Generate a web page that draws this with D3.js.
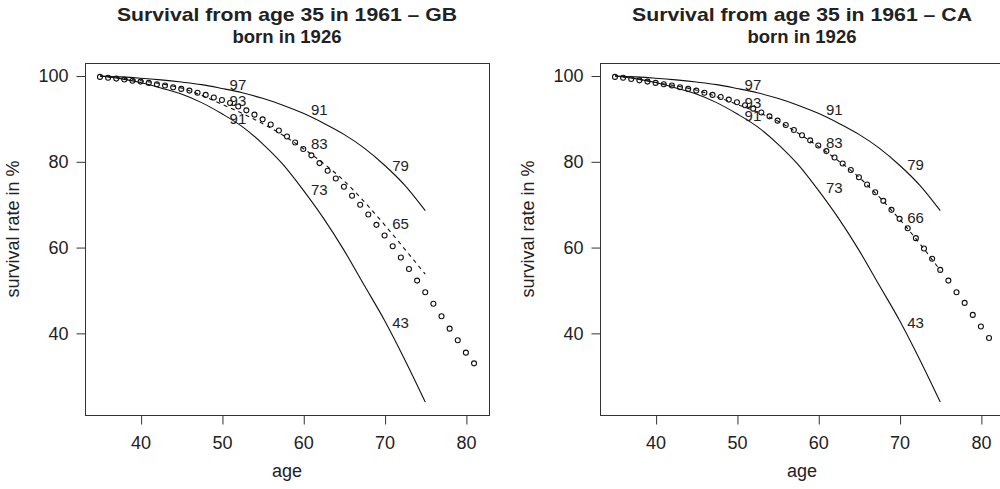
<!DOCTYPE html>
<head>
  <meta http-equiv="Content-Type" content="text/html; charset=utf-8">
  <style>
    body { margin: 0; background: #fff; }
    text { font-family: "Liberation Sans", Arial, sans-serif; fill: #222; }
  </style>
</head>
<body></body>
<script src="https://cdn.jsdelivr.net/npm/d3@7"></script>
<script>

var width = 1000,
    height = 489;

// ages of observed points
var ages = d3.range(35, 82);

// observed survival (circles)
var gbPoints = [99.8, 99.6, 99.4, 99.2, 98.9, 98.7, 98.4, 98.1, 97.8, 97.4,
                97.0, 96.6, 96.1, 95.6, 95.0, 94.4, 93.7, 92.9, 92.0, 91.0,
                89.9, 88.7, 87.3, 85.9, 84.5, 83.0, 81.5, 79.7, 77.9, 76.1,
                74.2, 72.1, 70.0, 67.7, 65.3, 62.8, 60.3, 57.7, 55.0, 52.3,
                49.6, 46.9, 44.0, 41.1, 38.4, 35.5, 33.0];
var caPoints = [99.8, 99.6, 99.3, 99.0, 98.7, 98.4, 98.1, 97.8, 97.4, 97.0,
                96.6, 96.1, 95.6, 95.1, 94.5, 93.9, 93.2, 92.4, 91.5, 90.6,
                89.6, 88.6, 87.4, 86.2, 85.0, 83.8, 82.5, 81.0, 79.6, 78.1,
                76.4, 74.7, 72.9, 70.9, 68.8, 66.7, 64.5, 62.2, 59.8, 57.4,
                54.8, 52.3, 49.6, 47.1, 44.3, 41.6, 38.9];

// model curves, read every 2.5 years
var curveAges = [35, 37.5, 40, 42.5, 45, 47.5, 50, 52.5, 55, 57.5, 60, 62.5, 65, 67.5, 70, 72.5, 75];
var upperCurve = [100, 99.8, 99.5, 99.1, 98.6, 98.0, 97.1, 96.1, 94.8, 93.2, 91.3, 89.0, 86.4, 83.2, 79.2, 74.5, 68.6];
var lowerCurve = [100, 99.4, 98.5, 97.2, 95.8, 93.8, 91.2, 88.2, 84.2, 79.4, 73.4, 66.8, 59.4, 51.2, 43.0, 33.8, 24.0];
var gbMiddle   = [100, 99.5, 98.9, 98.2, 97.2, 95.5, 93.4, 91.3, 88.9, 86.2, 83.1, 79.6, 75.6, 70.7, 65.3, 59.6, 53.8];
var caMiddle   = [100, 99.4, 98.5, 97.7, 96.7, 95.2, 93.4, 91.6, 89.5, 86.7, 83.6, 80.2, 76.4, 71.8, 66.6, 60.9, 54.7];

// curve labels: age of the value, vertical anchor, text
var labelAges = [50, 50, 50, 60, 60, 60, 70, 70, 70];
var gbLabelY = [98.1, 94.2, 90.1, 92.2, 84.3, 73.6, 79.1, 65.5, 42.5];
var gbLabels = ["97", "93", "91", "91", "83", "73", "79", "65", "43"];
var caLabelY = [98.1, 93.8, 90.9, 92.2, 84.5, 73.9, 79.3, 67.0, 42.6];
var caLabels = ["97", "93", "91", "91", "83", "73", "79", "66", "43"];

var xTicks = [40, 50, 60, 70, 80];
var yTicks = [40, 60, 80, 100];

var panels = [
  {title: "Survival from age 35 in 1961 \u2013 GB", left: 85, points: gbPoints, middle: gbMiddle, labelY: gbLabelY, labels: gbLabels},
  {title: "Survival from age 35 in 1961 \u2013 CA", left: 600, points: caPoints, middle: caMiddle, labelY: caLabelY, labels: caLabels}
];

var svg = d3.select("body").append("svg")
    .attr("width", width)
    .attr("height", height);

var boxW = 404, boxTop = 63, boxBottom = 415;

panels.forEach(function(p){
  var xs = d3.scaleLinear().domain([33.16, 82.84]).range([p.left, p.left + boxW]);
  var ys = d3.scaleLinear().domain([20.96, 103.04]).range([boxBottom, boxTop]);
  var g = svg.append("g");

  // box
  g.append("rect")
    .attr("x", p.left + 0.5).attr("y", boxTop + 0.5)
    .attr("width", boxW).attr("height", boxBottom - boxTop)
    .attr("fill", "none").attr("stroke", "#333").attr("stroke-width", 1);

  // x axis
  var xa = g.append("g")
    .attr("transform", "translate(0," + (boxBottom + 0.5) + ")")
    .call(d3.axisBottom(xs).tickValues(xTicks).tickSize(9).tickPadding(12).tickSizeOuter(0));
  xa.select(".domain").remove();
  xa.selectAll("line").attr("stroke", "#333").attr("transform", "translate(0.5,0)");
  xa.selectAll("text").attr("font-size", 18).attr("fill", "#222")
    .attr("font-family", "Liberation Sans, Arial, sans-serif");

  // y axis
  var ya = g.append("g")
    .attr("transform", "translate(" + (p.left + 0.5) + ",0)")
    .call(d3.axisLeft(ys).tickValues(yTicks).tickSize(9).tickPadding(8).tickSizeOuter(0));
  ya.select(".domain").remove();
  ya.selectAll("line").attr("stroke", "#333");
  ya.selectAll("text").attr("font-size", 18).attr("fill", "#222")
    .attr("font-family", "Liberation Sans, Arial, sans-serif");

  // axis titles
  g.append("text")
    .attr("x", p.left + boxW / 2).attr("y", 477)
    .attr("text-anchor", "middle").attr("font-size", 18)
    .text("age");
  g.append("text")
    .attr("transform", "translate(" + (p.left - 66) + "," + 229 + ") rotate(-90)")
    .attr("text-anchor", "middle").attr("font-size", 18)
    .text("survival rate in %");

  // title
  g.append("text")
    .attr("x", p.left + boxW / 2).attr("y", 21)
    .attr("text-anchor", "middle").attr("font-size", 18.5).attr("font-weight", "bold")
    .attr("textLength", 340).attr("lengthAdjust", "spacingAndGlyphs")
    .text(p.title);
  g.append("text")
    .attr("x", p.left + boxW / 2).attr("y", 43)
    .attr("text-anchor", "middle").attr("font-size", 18.5).attr("font-weight", "bold")
    .text("born in 1926");

  var line = d3.line()
    .x(function(d){ return xs(d[0]); })
    .y(function(d){ return ys(d[1]); })
    .curve(d3.curveMonotoneX);

  [upperCurve, lowerCurve].forEach(function(c){
    g.append("path")
      .attr("d", line(d3.zip(curveAges, c)))
      .attr("fill", "none").attr("stroke", "#111").attr("stroke-width", 1.1);
  });
  g.append("path")
    .attr("d", line(d3.zip(curveAges, p.middle)))
    .attr("fill", "none").attr("stroke", "#111").attr("stroke-width", 1.1)
    .attr("stroke-dasharray", "4,4");

  g.selectAll(".pt")
    .data(d3.zip(ages, p.points))
    .enter()
    .append("circle")
    .attr("class", "pt")
    .attr("cx", function(d){ return xs(d[0]); })
    .attr("cy", function(d){ return ys(d[1]); })
    .attr("r", 2.5)
    .attr("fill", "none").attr("stroke", "#111").attr("stroke-width", 1.1);

  g.selectAll(".lab")
    .data(d3.zip(labelAges, p.labelY, p.labels))
    .enter()
    .append("text")
    .attr("class", "lab")
    .attr("x", function(d){ return xs(d[0]) + 16; })
    .attr("y", function(d){ return ys(d[1]) + 5.5; })
    .attr("text-anchor", "middle")
    .attr("font-size", 15)
    .text(function(d){ return d[2]; });
});

</script>
</html>
